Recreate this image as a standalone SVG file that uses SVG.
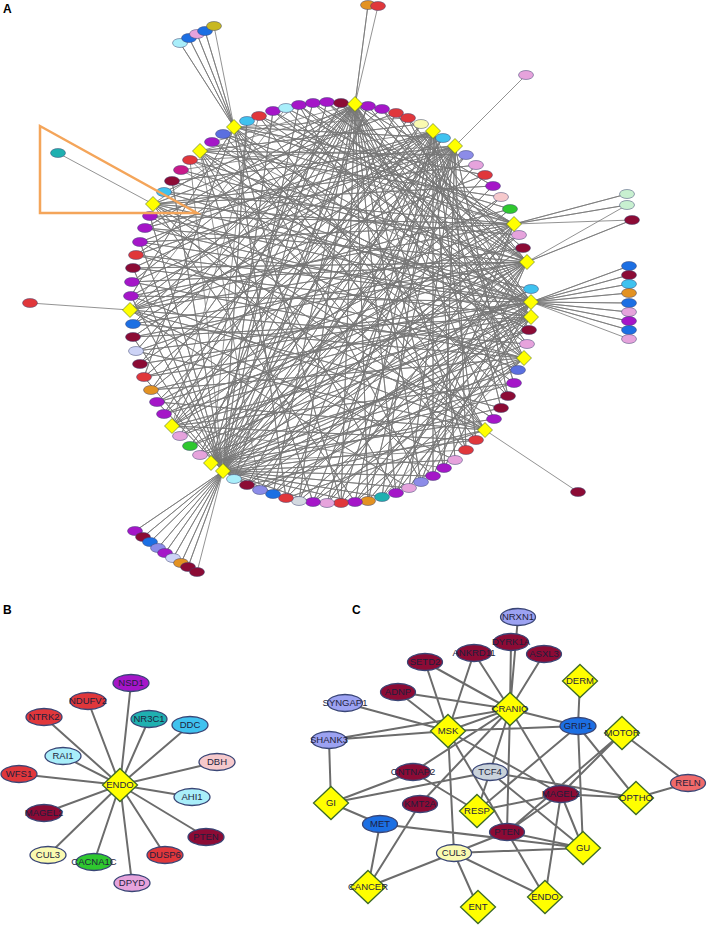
<svg xmlns="http://www.w3.org/2000/svg" width="708" height="925" viewBox="0 0 708 925">
<style>
.e{stroke:#3c4470;stroke-width:.5}
.pu{fill:#a516c8}.dr{fill:#8c0b35}.rd{fill:#e0373b}.cy{fill:#3fc2ef}.lc{fill:#a9eefa}.bl{fill:#1c6fe3}.lv{fill:#8c8ce8}.bv{fill:#5a6fe0}.pk{fill:#e6a3dc}.lp{fill:#f6c9cc}.gr{fill:#2fc82f}.or{fill:#e39222}.tl{fill:#1fb0b0}.ly{fill:#fafab0}.lg{fill:#d3d9e0}.mg{fill:#c81a8a}.ol{fill:#c8b820}.lgn{fill:#c8f0d0}.ll{fill:#cdd3f6}.sl{fill:#f06a6a}.nv{fill:#9ca2f2}.gb{fill:#c9d2da}
.dm{fill:#ffff00;stroke:#4a6a20;stroke-width:.6}
.dB{fill:#ffff00;stroke:#3d6a28;stroke-width:1.3}
.eB{stroke:#3a4676;stroke-width:1.3}
.t{font-family:"Liberation Sans",Arial,sans-serif;font-size:9.5px;fill:#1e1e3c;text-anchor:middle}
.lab{font-family:"Liberation Sans",Arial,sans-serif;font-size:12px;font-weight:bold;fill:#000}
.ea{fill:none;stroke:#777777;stroke-width:.8;stroke-linejoin:round}
.eb{fill:none;stroke:#6c6c6c;stroke-width:2}
</style>
<defs>
<path id="dA" d="M0,-7.5L7.5,0L0,7.5L-7.5,0Z"/>
<path id="dC" d="M0,-16.5L17.5,0L0,16.5L-17.5,0Z"/>
</defs>
<rect width="708" height="925" fill="#ffffff"/>
<text class="lab" x="3" y="13">A</text>
<text class="lab" x="3" y="614">B</text>
<text class="lab" x="352" y="614">C</text>

<g id="connectors">
<g id="connectors-A">
<path class="ea" d="M190 160L223 471 172 181 223 471 150 216 223 471 140 242 223 471 133 268 223 471 131 296 223 471 133 337 223 471 144 377 223 471 157 402 223 471 247 121 223 471 273 111 223 471 299 105 223 471 327 102 223 471 368 106 223 471 396 113 223 471 421 124 223 471 443 138 223 471 466 155 223 471 485 175 223 471 501 197 223 471 519 235 223 471 531 289 223 471 529 330 223 471 514 383 223 471 501 408 223 471 476 440 223 471 455 460 223 471 433 476 223 471 409 488 223 471 382 497 223 471 355 502 223 471 313 502 223 471 286 498 223 471 260 490 223 471 247 485 223 471 135 531 223 471 143 537 223 471 150 542 223 471 158 548 223 471 165 553 223 471 173 558 223 471 181 563 223 471 188 567 223 471 197 572"/>
<path class="ea" d="M212 142L355 104 164 192 355 104 145 228 355 104 136 255 355 104 132 282 355 104 133 324 355 104 136 351 355 104 140 364 355 104 151 390 355 104 164 414 355 104 180 436 355 104 200 455 355 104 234 479 355 104 273 494 355 104 299 501 355 104 341 503 355 104 368 501 355 104 396 493 355 104 421 482 355 104 444 468 355 104 466 450 355 104 494 419 355 104 508 396 355 104 518 370 355 104 527 344 355 104 523 248 355 104 493 186 355 104 368 5 355 104 378 6"/>
<path class="ea" d="M181 170L433 131 150 216 433 131 140 242 433 131 133 268 433 131 131 296 433 131 133 337 433 131 144 377 433 131 157 402 433 131 190 446 433 131 247 485 433 131 286 498 433 131 327 503 433 131 355 502 433 131 382 497 433 131 433 476 433 131 455 460 433 131 476 440 433 131 501 408 433 131 514 383 433 131 529 330"/>
<path class="ea" d="M190 160L455 146 172 181 455 146 145 228 455 146 136 255 455 146 132 282 455 146 133 324 455 146 140 364 455 146 151 390 455 146 164 414 455 146 200 455 455 146 234 479 455 146 260 490 455 146 299 501 455 146 313 502 455 146 341 503 455 146 368 501 455 146 409 488 455 146 444 468 455 146 466 450 455 146 508 396 455 146 526 75"/>
<path class="ea" d="M212 142L514 224 223 134 514 224 259 116 514 224 286 108 514 224 313 103 514 224 164 192 514 224 150 216 514 224 140 242 514 224 131 296 514 224 136 351 514 224 157 402 514 224 180 436 514 224 247 485 514 224 273 494 514 224 327 503 514 224 396 493 514 224 421 482 514 224 627 194 514 224 627 205 514 224 632 220"/>
<path class="ea" d="M247 121L527 262 273 111 527 262 299 105 527 262 327 102 527 262 341 103 527 262 382 109 527 262 408 118 527 262 190 160 527 262 181 170 527 262 145 228 527 262 133 268 527 262 132 282 527 262 133 324 527 262 133 337 527 262 144 377 527 262 164 414 527 262 190 446 527 262 200 455 527 262 234 479 527 262 286 498 527 262 313 502 527 262 355 502 527 262 382 497 527 262 433 476 527 262 632 220 527 262 627 205"/>
<path class="ea" d="M212 142L531 302 223 134 531 302 259 116 531 302 299 105 531 302 313 103 531 302 368 106 531 302 396 113 531 302 172 181 531 302 164 192 531 302 150 216 531 302 140 242 531 302 136 255 531 302 131 296 531 302 136 351 531 302 140 364 531 302 151 390 531 302 157 402 531 302 180 436 531 302 247 485 531 302 260 490 531 302 299 501 531 302 327 503 531 302 368 501 531 302 409 488 531 302 444 468 531 302 629 266 531 302 629 275 531 302 629 284 531 302 629 293 531 302 629 303 531 302 629 312 531 302 629 321 531 302 629 330 531 302 629 339"/>
<path class="ea" d="M190 160L531 317 273 111 531 317 327 102 531 317 382 109 531 317 145 228 531 317 133 268 531 317 133 337 531 317 144 377 531 317 164 414 531 317 190 446 531 317 234 479 531 317 273 494 531 317 341 503 531 317 396 493 531 317 421 482"/>
<path class="ea" d="M181 170L524 358 212 142 524 358 286 108 524 358 341 103 524 358 408 118 524 358 136 255 524 358 132 282 524 358 133 324 524 358 151 390 524 358 200 455 524 358 260 490 524 358 313 502 524 358 355 502 524 358 382 497"/>
<path class="ea" d="M190 160L485 430 223 134 485 430 259 116 485 430 299 105 485 430 150 216 485 430 140 242 485 430 131 296 485 430 136 351 485 430 157 402 485 430 247 485 485 430 286 498 485 430 578 492"/>
<path class="ea" d="M247 121L211 463 313 103 211 463 368 106 211 463 408 118 211 463 443 138 211 463 476 165 211 463 493 186 211 463 510 209 211 463 523 248 211 463 531 289 211 463 527 344 211 463 518 370 211 463 508 396 211 463 494 419 211 463 466 450"/>
<path class="ea" d="M259 116L172 426 341 103 172 426 421 124 172 426 466 155 172 426 501 197 172 426 519 235 172 426 529 330 172 426 514 383 172 426 476 440 172 426 444 468"/>
<path class="ea" d="M286 108L130 310 382 109 130 310 443 138 130 310 485 175 130 310 510 209 130 310 523 248 130 310 527 344 130 310 501 408 130 310 455 460 130 310 409 488 130 310 30 303"/>
<path class="ea" d="M299 105L153 204 396 113 153 204 476 165 153 204 493 186 153 204 519 235 153 204 531 289 153 204 518 370 153 204 494 419 153 204 433 476 153 204 355 502 153 204 58 153"/>
<path class="ea" d="M368 106L200 151 421 124 200 151 466 155 200 151 501 197 200 151 529 330 200 151 514 383 200 151 466 450 200 151 396 493 200 151 313 502 200 151 260 490"/>
<path class="ea" d="M408 118L234 127 443 138 234 127 485 175 234 127 510 209 234 127 527 344 234 127 508 396 234 127 476 440 234 127 421 482 234 127 341 503 234 127 286 498 234 127 131 296 234 127 144 377 234 127 180 43 234 127 189 38 234 127 197 34 234 127 205 31 234 127 214 26"/>
</g>
<g id="connectors-B">
<path class="eb" d="M131 683L120 785 88 701 120 785 44 717 120 785 149 719 120 785 190 725 120 785 63 756 120 785 217 762 120 785 19 774 120 785 192 797 120 785 44 813 120 785 206 837 120 785 165 855 120 785 48 855 120 785 94 862 120 785 132 883"/>
</g>
<g id="connectors-C">
<path class="eb" d="M518 617L510 709 M511 642L510 709 M544 654L510 709 M474 653L510 709 M474 653L448 731 M425 662L510 709 M425 662L448 731 M398 692L510 709 M398 692L448 731 M345 703L448 731 M329 740L448 731 M329 740L510 709 M329 740L331 803 M510 709L448 731 M510 709L578 726 M448 731L578 726 M580 681L578 726 M578 726L636 798 M578 726L583 848 M578 726L477 811 M622 733L688 783 M622 733L561 794 M622 733L507 832 M688 783L636 798 M561 794L636 798 M561 794L477 811 M561 794L583 848 M561 794L545 897 M561 794L510 709 M561 794L448 731 M561 794L507 832 M490 772L510 709 M490 772L331 803 M490 772L477 811 M490 772L583 848 M490 772L636 798 M413 772L331 803 M413 772L477 811 M413 772L510 709 M420 804L510 709 M420 804L368 887 M448 731L454 853 M448 731L507 832 M510 709L507 832 M331 803L380 824 M380 824L583 848 M380 824L368 887 M507 832L454 853 M507 832L583 848 M507 832L545 897 M454 853L583 848 M454 853L478 907 M454 853L545 897 M454 853L368 887"/>
</g>
</g>

<g id="panelA-nodes">
<g id="o3"><ellipse class="e lc" cx="180" cy="43" rx="7.5" ry="4.5"/></g>
<g id="o4"><ellipse class="e bl" cx="189" cy="38" rx="7.5" ry="4.5"/></g>
<g id="o5"><ellipse class="e pk" cx="197" cy="34" rx="7.5" ry="4.5"/></g>
<g id="o6"><ellipse class="e bl" cx="205" cy="31" rx="7.5" ry="4.5"/></g>
<g id="o7"><ellipse class="e ol" cx="214" cy="26" rx="7.5" ry="4.5"/></g>
<g id="o8"><ellipse class="e or" cx="368" cy="5" rx="7.5" ry="4.5"/></g>
<g id="o9"><ellipse class="e rd" cx="378" cy="6" rx="7.5" ry="4.5"/></g>
<g id="o10"><ellipse class="e pk" cx="526" cy="75" rx="7.5" ry="4.5"/></g>
<g id="o11"><ellipse class="e lgn" cx="627" cy="194" rx="7.5" ry="4.5"/></g>
<g id="o12"><ellipse class="e lgn" cx="627" cy="205" rx="7.5" ry="4.5"/></g>
<g id="o13"><ellipse class="e dr" cx="632" cy="220" rx="7.5" ry="4.5"/></g>
<g id="o1"><ellipse class="e tl" cx="58" cy="153" rx="7.5" ry="4.5"/></g>
<g id="o2"><ellipse class="e rd" cx="30" cy="303" rx="7.5" ry="4.5"/></g>
<g id="o14"><ellipse class="e dr" cx="578" cy="492" rx="7.5" ry="4.5"/></g>
<g id="f1"><ellipse class="e bl" cx="629" cy="266" rx="7.5" ry="4.5"/></g>
<g id="f2"><ellipse class="e dr" cx="629" cy="275" rx="7.5" ry="4.5"/></g>
<g id="f3"><ellipse class="e cy" cx="629" cy="284" rx="7.5" ry="4.5"/></g>
<g id="f4"><ellipse class="e or" cx="629" cy="293" rx="7.5" ry="4.5"/></g>
<g id="f5"><ellipse class="e bl" cx="629" cy="303" rx="7.5" ry="4.5"/></g>
<g id="f6"><ellipse class="e pk" cx="629" cy="312" rx="7.5" ry="4.5"/></g>
<g id="f7"><ellipse class="e pu" cx="629" cy="321" rx="7.5" ry="4.5"/></g>
<g id="f8"><ellipse class="e bl" cx="629" cy="330" rx="7.5" ry="4.5"/></g>
<g id="f9"><ellipse class="e pk" cx="629" cy="339" rx="7.5" ry="4.5"/></g>
<g id="b1"><ellipse class="e pu" cx="135" cy="531" rx="7.5" ry="4.5"/></g>
<g id="b2"><ellipse class="e dr" cx="143" cy="537" rx="7.5" ry="4.5"/></g>
<g id="b3"><ellipse class="e bl" cx="150" cy="542" rx="7.5" ry="4.5"/></g>
<g id="b4"><ellipse class="e lv" cx="158" cy="548" rx="7.5" ry="4.5"/></g>
<g id="b5"><ellipse class="e pu" cx="165" cy="553" rx="7.5" ry="4.5"/></g>
<g id="b6"><ellipse class="e ll" cx="173" cy="558" rx="7.5" ry="4.5"/></g>
<g id="b7"><ellipse class="e or" cx="181" cy="563" rx="7.5" ry="4.5"/></g>
<g id="b8"><ellipse class="e dr" cx="188" cy="567" rx="7.5" ry="4.5"/></g>
<g id="b9"><ellipse class="e dr" cx="197" cy="572" rx="7.5" ry="4.5"/></g>

<g id="a1"><ellipse class="e pu" cx="212" cy="142" rx="7.5" ry="4.5"/></g>
<g id="a2"><ellipse class="e bv" cx="223" cy="134" rx="7.5" ry="4.5"/></g>
<g id="a3"><ellipse class="e cy" cx="247" cy="121" rx="7.5" ry="4.5"/></g>
<g id="a4"><ellipse class="e rd" cx="259" cy="116" rx="7.5" ry="4.5"/></g>
<g id="a5"><ellipse class="e pu" cx="273" cy="111" rx="7.5" ry="4.5"/></g>
<g id="a6"><ellipse class="e lc" cx="286" cy="108" rx="7.5" ry="4.5"/></g>
<g id="a7"><ellipse class="e pu" cx="299" cy="105" rx="7.5" ry="4.5"/></g>
<g id="a8"><ellipse class="e pu" cx="313" cy="103" rx="7.5" ry="4.5"/></g>
<g id="a9"><ellipse class="e pu" cx="327" cy="102" rx="7.5" ry="4.5"/></g>
<g id="a10"><ellipse class="e dr" cx="341" cy="103" rx="7.5" ry="4.5"/></g>
<g id="a11"><ellipse class="e pu" cx="368" cy="106" rx="7.5" ry="4.5"/></g>
<g id="a12"><ellipse class="e pu" cx="382" cy="109" rx="7.5" ry="4.5"/></g>
<g id="a13"><ellipse class="e rd" cx="396" cy="113" rx="7.5" ry="4.5"/></g>
<g id="a14"><ellipse class="e rd" cx="408" cy="118" rx="7.5" ry="4.5"/></g>
<g id="a15"><ellipse class="e ly" cx="421" cy="124" rx="7.5" ry="4.5"/></g>
<g id="a16"><ellipse class="e cy" cx="443" cy="138" rx="7.5" ry="4.5"/></g>
<g id="a17"><ellipse class="e lv" cx="466" cy="155" rx="7.5" ry="4.5"/></g>
<g id="a18"><ellipse class="e pk" cx="476" cy="165" rx="7.5" ry="4.5"/></g>
<g id="a19"><ellipse class="e rd" cx="485" cy="175" rx="7.5" ry="4.5"/></g>
<g id="a20"><ellipse class="e pu" cx="493" cy="186" rx="7.5" ry="4.5"/></g>
<g id="a21"><ellipse class="e lp" cx="501" cy="197" rx="7.5" ry="4.5"/></g>
<g id="a22"><ellipse class="e gr" cx="510" cy="209" rx="7.5" ry="4.5"/></g>
<g id="a23"><ellipse class="e pk" cx="519" cy="235" rx="7.5" ry="4.5"/></g>
<g id="a24"><ellipse class="e dr" cx="523" cy="248" rx="7.5" ry="4.5"/></g>
<g id="a25"><ellipse class="e cy" cx="531" cy="289" rx="7.5" ry="4.5"/></g>
<g id="a26"><ellipse class="e dr" cx="529" cy="330" rx="7.5" ry="4.5"/></g>
<g id="a27"><ellipse class="e pk" cx="527" cy="344" rx="7.5" ry="4.5"/></g>
<g id="a28"><ellipse class="e bv" cx="518" cy="370" rx="7.5" ry="4.5"/></g>
<g id="a29"><ellipse class="e pu" cx="514" cy="383" rx="7.5" ry="4.5"/></g>
<g id="a30"><ellipse class="e dr" cx="508" cy="396" rx="7.5" ry="4.5"/></g>
<g id="a31"><ellipse class="e dr" cx="501" cy="408" rx="7.5" ry="4.5"/></g>
<g id="a32"><ellipse class="e pu" cx="494" cy="419" rx="7.5" ry="4.5"/></g>
<g id="a33"><ellipse class="e rd" cx="476" cy="440" rx="7.5" ry="4.5"/></g>
<g id="a34"><ellipse class="e rd" cx="466" cy="450" rx="7.5" ry="4.5"/></g>
<g id="a35"><ellipse class="e pk" cx="455" cy="460" rx="7.5" ry="4.5"/></g>
<g id="a36"><ellipse class="e pu" cx="444" cy="468" rx="7.5" ry="4.5"/></g>
<g id="a37"><ellipse class="e pu" cx="433" cy="476" rx="7.5" ry="4.5"/></g>
<g id="a38"><ellipse class="e lv" cx="421" cy="482" rx="7.5" ry="4.5"/></g>
<g id="a39"><ellipse class="e pk" cx="409" cy="488" rx="7.5" ry="4.5"/></g>
<g id="a40"><ellipse class="e pu" cx="396" cy="493" rx="7.5" ry="4.5"/></g>
<g id="a41"><ellipse class="e tl" cx="382" cy="497" rx="7.5" ry="4.5"/></g>
<g id="a42"><ellipse class="e or" cx="368" cy="501" rx="7.5" ry="4.5"/></g>
<g id="a43"><ellipse class="e pu" cx="355" cy="502" rx="7.5" ry="4.5"/></g>
<g id="a44"><ellipse class="e rd" cx="341" cy="503" rx="7.5" ry="4.5"/></g>
<g id="a45"><ellipse class="e pk" cx="327" cy="503" rx="7.5" ry="4.5"/></g>
<g id="a46"><ellipse class="e pu" cx="313" cy="502" rx="7.5" ry="4.5"/></g>
<g id="a47"><ellipse class="e lg" cx="299" cy="501" rx="7.5" ry="4.5"/></g>
<g id="a48"><ellipse class="e rd" cx="286" cy="498" rx="7.5" ry="4.5"/></g>
<g id="a49"><ellipse class="e bl" cx="273" cy="494" rx="7.5" ry="4.5"/></g>
<g id="a50"><ellipse class="e lv" cx="260" cy="490" rx="7.5" ry="4.5"/></g>
<g id="a51"><ellipse class="e dr" cx="247" cy="485" rx="7.5" ry="4.5"/></g>
<g id="a52"><ellipse class="e lc" cx="234" cy="479" rx="7.5" ry="4.5"/></g>
<g id="a53"><ellipse class="e pk" cx="200" cy="455" rx="7.5" ry="4.5"/></g>
<g id="a54"><ellipse class="e gr" cx="190" cy="446" rx="7.5" ry="4.5"/></g>
<g id="a55"><ellipse class="e pk" cx="180" cy="436" rx="7.5" ry="4.5"/></g>
<g id="a56"><ellipse class="e pu" cx="164" cy="414" rx="7.5" ry="4.5"/></g>
<g id="a57"><ellipse class="e pu" cx="157" cy="402" rx="7.5" ry="4.5"/></g>
<g id="a58"><ellipse class="e or" cx="151" cy="390" rx="7.5" ry="4.5"/></g>
<g id="a59"><ellipse class="e rd" cx="144" cy="377" rx="7.5" ry="4.5"/></g>
<g id="a60"><ellipse class="e dr" cx="140" cy="364" rx="7.5" ry="4.5"/></g>
<g id="a61"><ellipse class="e ll" cx="136" cy="351" rx="7.5" ry="4.5"/></g>
<g id="a62"><ellipse class="e dr" cx="133" cy="337" rx="7.5" ry="4.5"/></g>
<g id="a63"><ellipse class="e bl" cx="133" cy="324" rx="7.5" ry="4.5"/></g>
<g id="a64"><ellipse class="e pu" cx="131" cy="296" rx="7.5" ry="4.5"/></g>
<g id="a65"><ellipse class="e pu" cx="132" cy="282" rx="7.5" ry="4.5"/></g>
<g id="a66"><ellipse class="e dr" cx="133" cy="268" rx="7.5" ry="4.5"/></g>
<g id="a67"><ellipse class="e rd" cx="136" cy="255" rx="7.5" ry="4.5"/></g>
<g id="a68"><ellipse class="e pu" cx="140" cy="242" rx="7.5" ry="4.5"/></g>
<g id="a69"><ellipse class="e pu" cx="145" cy="228" rx="7.5" ry="4.5"/></g>
<g id="a70"><ellipse class="e pu" cx="150" cy="216" rx="7.5" ry="4.5"/></g>
<g id="a71"><ellipse class="e cy" cx="164" cy="192" rx="7.5" ry="4.5"/></g>
<g id="a72"><ellipse class="e dr" cx="172" cy="181" rx="7.5" ry="4.5"/></g>
<g id="a73"><ellipse class="e mg" cx="181" cy="170" rx="7.5" ry="4.5"/></g>
<g id="a74"><ellipse class="e rd" cx="190" cy="160" rx="7.5" ry="4.5"/></g>

<g id="D1"><use href="#dA" class="dm" x="355" y="104"/></g>
<g id="D2"><use href="#dA" class="dm" x="433" y="131"/></g>
<g id="D3"><use href="#dA" class="dm" x="455" y="146"/></g>
<g id="D4"><use href="#dA" class="dm" x="514" y="224"/></g>
<g id="D5"><use href="#dA" class="dm" x="527" y="262"/></g>
<g id="D6"><use href="#dA" class="dm" x="531" y="302"/></g>
<g id="D7"><use href="#dA" class="dm" x="531" y="317"/></g>
<g id="D8"><use href="#dA" class="dm" x="524" y="358"/></g>
<g id="D9"><use href="#dA" class="dm" x="485" y="430"/></g>
<g id="D10"><use href="#dA" class="dm" x="223" y="471"/></g>
<g id="D11"><use href="#dA" class="dm" x="211" y="463"/></g>
<g id="D12"><use href="#dA" class="dm" x="172" y="426"/></g>
<g id="D13"><use href="#dA" class="dm" x="130" y="310"/></g>
<g id="D14"><use href="#dA" class="dm" x="153" y="204"/></g>
<g id="D15"><use href="#dA" class="dm" x="200" y="151"/></g>
<g id="D16"><use href="#dA" class="dm" x="234" y="127"/></g>
</g>

<polygon id="highlight" points="40,126 40,213 197,213" fill="none" stroke="#f4a55a" stroke-width="2.5"/>

<g id="panelB-nodes">
<g id="B-NSD1"><ellipse class="eB pu" cx="131" cy="683" rx="18" ry="8.5"/><text class="t" x="131" y="683" dy=".35em">NSD1</text></g>
<g id="B-NDUFV2"><ellipse class="eB rd" cx="88" cy="701" rx="18" ry="8.5"/><text class="t" x="88" y="701" dy=".35em">NDUFV2</text></g>
<g id="B-NTRK2"><ellipse class="eB rd" cx="44" cy="717" rx="18" ry="8.5"/><text class="t" x="44" y="717" dy=".35em">NTRK2</text></g>
<g id="B-NR3C1"><ellipse class="eB tl" cx="149" cy="719" rx="18" ry="8.5"/><text class="t" x="149" y="719" dy=".35em">NR3C1</text></g>
<g id="B-DDC"><ellipse class="eB cy" cx="190" cy="725" rx="18" ry="8.5"/><text class="t" x="190" y="725" dy=".35em">DDC</text></g>
<g id="B-RAI1"><ellipse class="eB lc" cx="63" cy="756" rx="18" ry="8.5"/><text class="t" x="63" y="756" dy=".35em">RAI1</text></g>
<g id="B-DBH"><ellipse class="eB lp" cx="217" cy="762" rx="18" ry="8.5"/><text class="t" x="217" y="762" dy=".35em">DBH</text></g>
<g id="B-WFS1"><ellipse class="eB rd" cx="19" cy="774" rx="18" ry="8.5"/><text class="t" x="19" y="774" dy=".35em">WFS1</text></g>
<g id="B-AHI1"><ellipse class="eB lc" cx="192" cy="797" rx="18" ry="8.5"/><text class="t" x="192" y="797" dy=".35em">AHI1</text></g>
<g id="B-MAGEL2"><ellipse class="eB dr" cx="44" cy="813" rx="18" ry="8.5"/><text class="t" x="44" y="813" dy=".35em">MAGEL2</text></g>
<g id="B-PTEN"><ellipse class="eB dr" cx="206" cy="837" rx="18" ry="8.5"/><text class="t" x="206" y="837" dy=".35em">PTEN</text></g>
<g id="B-DUSP6"><ellipse class="eB rd" cx="165" cy="855" rx="18" ry="8.5"/><text class="t" x="165" y="855" dy=".35em">DUSP6</text></g>
<g id="B-CUL3"><ellipse class="eB ly" cx="48" cy="855" rx="18" ry="8.5"/><text class="t" x="48" y="855" dy=".35em">CUL3</text></g>
<g id="B-CACNA1C"><ellipse class="eB gr" cx="94" cy="862" rx="18" ry="8.5"/><text class="t" x="94" y="862" dy=".35em">CACNA1C</text></g>
<g id="B-DPYD"><ellipse class="eB pk" cx="132" cy="883" rx="18" ry="8.5"/><text class="t" x="132" y="883" dy=".35em">DPYD</text></g>
<g id="B-ENDO"><use href="#dC" class="dB" x="120" y="785"/><text class="t" x="120" y="785" dy=".35em">ENDO</text></g>
</g>

<g id="panelC-nodes">
<g id="C-NRXN1"><ellipse class="eB nv" cx="518" cy="617" rx="17.5" ry="8.5"/><text class="t" x="518" y="617" dy=".35em">NRXN1</text></g>
<g id="C-DYRK1A"><ellipse class="eB dr" cx="511" cy="642" rx="17.5" ry="8.5"/><text class="t" x="511" y="642" dy=".35em">DYRK1A</text></g>
<g id="C-ASXL3"><ellipse class="eB dr" cx="544" cy="654" rx="17.5" ry="8.5"/><text class="t" x="544" y="654" dy=".35em">ASXL3</text></g>
<g id="C-ANKRD11"><ellipse class="eB dr" cx="474" cy="653" rx="17.5" ry="8.5"/><text class="t" x="474" y="653" dy=".35em">ANKRD11</text></g>
<g id="C-SETD2"><ellipse class="eB dr" cx="425" cy="662" rx="17.5" ry="8.5"/><text class="t" x="425" y="662" dy=".35em">SETD2</text></g>
<g id="C-ADNP"><ellipse class="eB dr" cx="398" cy="692" rx="17.5" ry="8.5"/><text class="t" x="398" y="692" dy=".35em">ADNP</text></g>
<g id="C-SYNGAP1"><ellipse class="eB nv" cx="345" cy="703" rx="17.5" ry="8.5"/><text class="t" x="345" y="703" dy=".35em">SYNGAP1</text></g>
<g id="C-SHANK3"><ellipse class="eB nv" cx="329" cy="740" rx="17.5" ry="8.5"/><text class="t" x="329" y="740" dy=".35em">SHANK3</text></g>
<g id="C-GRIP1"><ellipse class="eB bl" cx="578" cy="726" rx="18" ry="8.5"/><text class="t" x="578" y="726" dy=".35em">GRIP1</text></g>
<g id="C-CNTNAP2"><ellipse class="eB dr" cx="413" cy="772" rx="17.5" ry="8.5"/><text class="t" x="413" y="772" dy=".35em">CNTNAP2</text></g>
<g id="C-TCF4"><ellipse class="eB gb" cx="490" cy="772" rx="17.5" ry="8.5"/><text class="t" x="490" y="772" dy=".35em">TCF4</text></g>
<g id="C-RELN"><ellipse class="eB sl" cx="688" cy="783" rx="17.5" ry="8.5"/><text class="t" x="688" y="783" dy=".35em">RELN</text></g>
<g id="C-MAGEL2"><ellipse class="eB dr" cx="561" cy="794" rx="17.5" ry="8.5"/><text class="t" x="561" y="794" dy=".35em">MAGEL2</text></g>
<g id="C-KMT2A"><ellipse class="eB dr" cx="420" cy="804" rx="17.5" ry="8.5"/><text class="t" x="420" y="804" dy=".35em">KMT2A</text></g>
<g id="C-MET"><ellipse class="eB bl" cx="380" cy="824" rx="17.5" ry="8.5"/><text class="t" x="380" y="824" dy=".35em">MET</text></g>
<g id="C-PTEN"><ellipse class="eB dr" cx="507" cy="832" rx="17.5" ry="8.5"/><text class="t" x="507" y="832" dy=".35em">PTEN</text></g>
<g id="C-CUL3"><ellipse class="eB ly" cx="454" cy="853" rx="17.5" ry="8.5"/><text class="t" x="454" y="853" dy=".35em">CUL3</text></g>
<g id="C-DERM"><use href="#dC" class="dB" x="580" y="681"/><text class="t" x="580" y="681" dy=".35em">DERM</text></g>
<g id="C-CRANIO"><use href="#dC" class="dB" x="510" y="709"/><text class="t" x="510" y="709" dy=".35em">CRANIO</text></g>
<g id="C-MSK"><use href="#dC" class="dB" x="448" y="731"/><text class="t" x="448" y="731" dy=".35em">MSK</text></g>
<g id="C-MOTOR"><use href="#dC" class="dB" x="622" y="733"/><text class="t" x="622" y="733" dy=".35em">MOTOR</text></g>
<g id="C-OPTHO"><use href="#dC" class="dB" x="636" y="798"/><text class="t" x="636" y="798" dy=".35em">OPTHO</text></g>
<g id="C-GI"><use href="#dC" class="dB" x="331" y="803"/><text class="t" x="331" y="803" dy=".35em">GI</text></g>
<g id="C-RESP"><use href="#dC" class="dB" x="477" y="811"/><text class="t" x="477" y="811" dy=".35em">RESP</text></g>
<g id="C-GU"><use href="#dC" class="dB" x="583" y="848"/><text class="t" x="583" y="848" dy=".35em">GU</text></g>
<g id="C-CANCER"><use href="#dC" class="dB" x="368" y="887"/><text class="t" x="368" y="887" dy=".35em">CANCER</text></g>
<g id="C-ENDO"><use href="#dC" class="dB" x="545" y="897"/><text class="t" x="545" y="897" dy=".35em">ENDO</text></g>
<g id="C-ENT"><use href="#dC" class="dB" x="478" y="907"/><text class="t" x="478" y="907" dy=".35em">ENT</text></g>
</g>
</svg>
